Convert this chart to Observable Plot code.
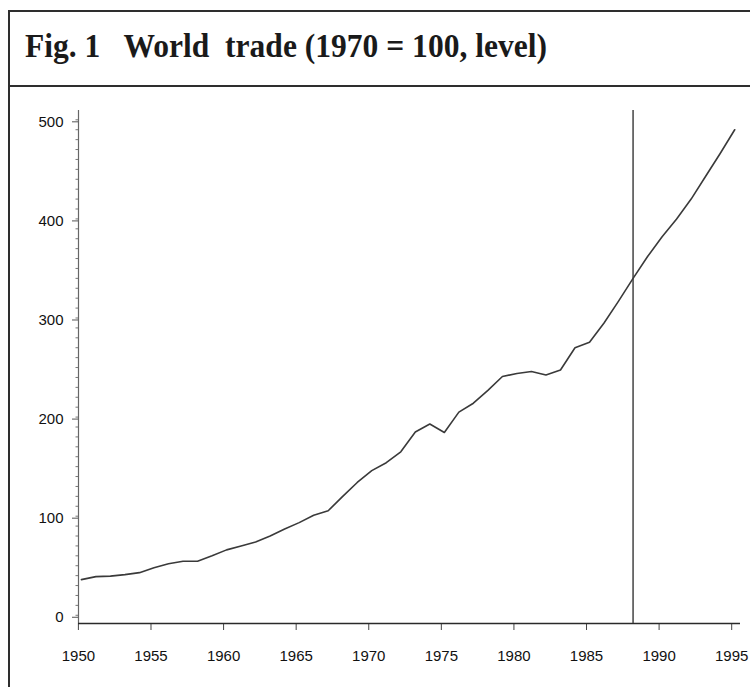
<!DOCTYPE html>
<html>
<head>
<meta charset="utf-8">
<script src="https://cdn.jsdelivr.net/npm/d3@7"></script>
<script src="https://cdn.jsdelivr.net/npm/@observablehq/plot@0.6"></script>
<style>
  html, body { margin: 0; padding: 0; background: #fff; width: 750px; height: 687px; overflow: hidden; }
  #chart { position: absolute; left: 0; top: 87px; }
  #frame { position: absolute; left: 8px; top: 10px; width: 800px; height: 720px; border: 2px solid #2e2e2e; box-sizing: border-box; z-index: 2; pointer-events: none; }
  #titlebar { position: absolute; left: 8px; top: 85px; width: 800px; height: 0; border-top: 2.5px solid #2e2e2e; z-index: 2; }
  #title { position: absolute; left: 0; top: 0; z-index: 3; }
</style>
</head>
<body>
<div id="frame"></div>
<div id="titlebar"></div>
<svg id="title" width="750" height="87">
  <text x="25" y="57" font-family="Liberation Serif, Times New Roman, serif" font-weight="bold" font-size="34" fill="#1a1a1a" textLength="522" lengthAdjust="spacingAndGlyphs" style="white-space:pre">Fig. 1   World  trade (1970 = 100, level)</text>
</svg>
<div id="chart"></div>
<script>
// Data
const years = [1950,1951,1952,1953,1954,1955,1956,1957,1958,1959,
               1960,1961,1962,1963,1964,1965,1966,1967,1968,1969,
               1970,1971,1972,1973,1974,1975,1976,1977,1978,1979,
               1980,1981,1982,1983,1984,1985,1986,1987,1988,1989,
               1990,1991,1992,1993,1994,1995];
const tradeIndex = [36,39,39.5,41,43,48,52,54.5,54.5,60,
                    66,70,74,80,87,93.5,101,105.5,120,134,
                    146,154,165,185,193,184.5,205,214,227,241,
                    244,246,242.5,247.5,270,275.5,295,317,340,362,
                    382,400,420,443,466,490];
const xTicks = [1950,1955,1960,1965,1970,1975,1980,1985,1990,1995];
const yTicks = [0,100,200,300,400,500];
const yMinorTicks = d3.range(0, 510, 10);
const markerYear = [1988];
const xDomain = [1949.8, 1995.4];
const yDomain = [-8.3, 509.4];

const data = years.map((y, i) => ({year: y, value: tradeIndex[i]}));

const chart = Plot.plot({
  width: 750,
  height: 600,
  marginLeft: 78,
  marginRight: 10,
  marginTop: 23,
  marginBottom: 64,
  style: {background: "transparent", fontFamily: "Liberation Sans, Arial, sans-serif", fontSize: "15px", color: "#111"},
  x: {domain: xDomain, axis: null},
  y: {domain: yDomain, axis: null},
  marks: [
    Plot.axisY({ticks: yMinorTicks, tickSize: 2.5, tickFormat: () => "", label: null, stroke: "#777"}),
    Plot.axisY({ticks: yTicks, tickSize: 6, tickPadding: 9, dy: 2, fontSize: 15, tickFormat: d => String(d), label: null, stroke: "#555"}),
    Plot.axisX({ticks: xTicks, tickSize: 7, tickPadding: 20, dx: -3, fontSize: 15, tickFormat: d => String(d), label: null, stroke: "#444"}),
    Plot.ruleX([xDomain[0]], {stroke: "#666", strokeWidth: 1.2}),
    Plot.ruleY([yDomain[0]], {stroke: "#2a2a2a", strokeWidth: 1.6}),
    Plot.ruleX(markerYear, {stroke: "#444", strokeWidth: 1.5}),
    Plot.line(data, {x: "year", y: "value", stroke: "#3a3a3a", strokeWidth: 1.6})
  ]
});
document.getElementById("chart").appendChild(chart);
</script>
</body>
</html>
